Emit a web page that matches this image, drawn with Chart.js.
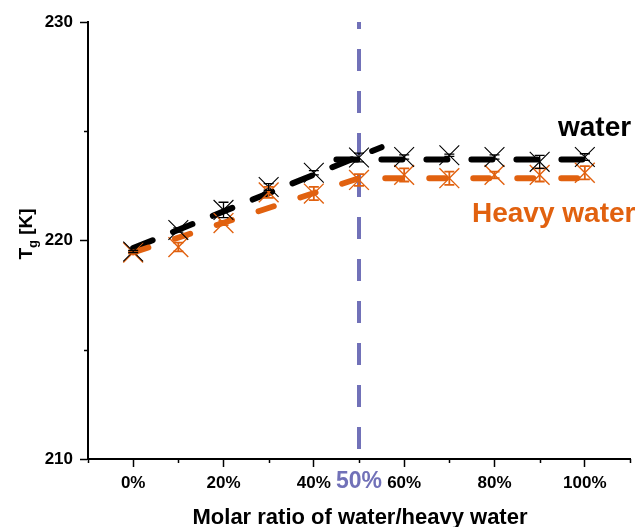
<!DOCTYPE html>
<html><head><meta charset="utf-8">
<script src="https://cdn.jsdelivr.net/npm/chart.js@4/dist/chart.umd.min.js"></script>
<style>html,body{margin:0;padding:0;background:#fff}#wrap{width:639px;height:527px}</style>
</head><body><div id="wrap"><canvas id="c" width="639" height="527"></canvas></div>
<script>
// ---- data ----
const ratios = [0, 10, 20, 30, 40, 50, 60, 70, 80, 90, 100];
const waterTg = [219.5, 220.48, 221.4, 222.45, 223.1, 223.8, 223.82, 223.9, 223.82, 223.6, 223.82];
const waterErr = [0.05, 0.1, 0.35, 0.15, 0.1, 0.2, 0.1, 0.05, 0.1, 0.3, 0.15];
const heavyTg = [219.45, 219.7, 220.8, 222.2, 222.15, 222.77, 223.0, 222.85, 223.0, 223.0, 223.1];
const heavyErr = [0.05, 0.2, 0.1, 0.25, 0.3, 0.27, 0.3, 0.3, 0.15, 0.3, 0.3];
const waterTrendX = [0, 55];
const waterTrendY = [219.65, 224.27];
const waterPlateauX = [45, 100];
const waterPlateauY = [223.71, 223.71];
const heavyTrendX = [0, 50, 100];
const heavyTrendY = [219.45, 222.85, 222.85];
const xTickLabels = [0, 20, 40, 60, 80, 100];
const yTickLabels = [210, 220, 230];
const markRatio = 50;
const seriesNames = ['water', 'Heavy water'];

const BLACK = '#000000';
const ORANGE = '#e1610f';
const BLUE = '#7171b8';
const FONT = '"Liberation Sans", Arial, sans-serif';

const pts = (xs, ys) => xs.map((x, i) => ({x: x, y: ys[i]}));

const errorBars = {
  id: 'errorBars',
  afterDatasetsDraw(chart) {
    const ctx = chart.ctx, xs = chart.scales.x, ys = chart.scales.y;
    const sets = [[heavyTg, heavyErr, ORANGE, 1.8], [waterTg, waterErr, BLACK, 1.3]];
    ctx.save();
    sets.forEach(([vals, errs, col, lw]) => {
      ctx.strokeStyle = col; ctx.lineWidth = lw;
      ratios.forEach((r, i) => {
        const px = xs.getPixelForValue(r);
        const t = ys.getPixelForValue(vals[i] + errs[i]);
        const b = ys.getPixelForValue(vals[i] - errs[i]);
        ctx.beginPath();
        ctx.moveTo(px, t); ctx.lineTo(px, b);
        ctx.moveTo(px - 5, t); ctx.lineTo(px + 5, t);
        ctx.moveTo(px - 5, b); ctx.lineTo(px + 5, b);
        ctx.stroke();
      });
    });
    ctx.restore();
  }
};

const decor = {
  id: 'decor',
  beforeDatasetsDraw(chart) {
    const ctx = chart.ctx, xs = chart.scales.x, a = chart.chartArea;
    const px = xs.getPixelForValue(markRatio);
    ctx.save();
    ctx.strokeStyle = BLUE; ctx.lineWidth = 4;
    ctx.setLineDash([22, 20]); ctx.lineDashOffset = 15;
    ctx.beginPath(); ctx.moveTo(px, a.top); ctx.lineTo(px, a.bottom); ctx.stroke();
    ctx.restore();
  },
  afterDraw(chart) {
    const ctx = chart.ctx, xs = chart.scales.x, ys = chart.scales.y, a = chart.chartArea;
    ctx.save();
    // minor ticks
    ctx.strokeStyle = BLACK; ctx.lineWidth = 1.5;
    for (let v = -10; v <= 110; v += 10) {
      if (xTickLabels.includes(v)) continue;
      const px = Math.round(xs.getPixelForValue(v)) + 0.5;
      ctx.beginPath(); ctx.moveTo(px, a.bottom); ctx.lineTo(px, a.bottom + 4); ctx.stroke();
    }
    for (let v = 215; v <= 225; v += 10) {
      const py = Math.round(ys.getPixelForValue(v)) + 0.5;
      ctx.beginPath(); ctx.moveTo(a.left, py); ctx.lineTo(a.left - 4, py); ctx.stroke();
    }
    // 50% label
    ctx.fillStyle = BLUE; ctx.font = 'bold 23px ' + FONT;
    ctx.textAlign = 'center'; ctx.textBaseline = 'middle';
    ctx.fillText(markRatio + '%', xs.getPixelForValue(markRatio), 482);
    // series labels
    ctx.textAlign = 'left'; ctx.textBaseline = 'alphabetic';
    ctx.font = 'bold 28px ' + FONT;
    ctx.fillStyle = BLACK; ctx.fillText(seriesNames[0], 558, 136);
    ctx.fillStyle = ORANGE; ctx.fillText(seriesNames[1], 472, 222);
    // x title
    ctx.fillStyle = BLACK; ctx.font = 'bold 22px ' + FONT; ctx.textAlign = 'center';
    ctx.fillText('Molar ratio of water/heavy water', (a.left + a.right) / 2 + 1, 524);
    // y title T_g [K]
    ctx.translate(32, 234); ctx.rotate(-Math.PI / 2);
    ctx.textAlign = 'left';
    const f1 = 'bold 19px ' + FONT, f2 = 'bold 13px ' + FONT;
    ctx.font = f1; const wT = ctx.measureText('T').width; const wK = ctx.measureText(' [K]').width;
    ctx.font = f2; const wg = ctx.measureText('g').width;
    let x0 = -(wT + wg + wK) / 2;
    ctx.font = f1; ctx.fillText('T', x0, 0);
    ctx.font = f2; ctx.fillText('g', x0 + wT, 5);
    ctx.font = f1; ctx.fillText(' [K]', x0 + wT + wg, 0);
    ctx.restore();
  }
};

new Chart(document.getElementById('c'), {
  type: 'scatter',
  data: {
    datasets: [
      {label: 'water markers', data: pts(ratios, waterTg), pointStyle: 'crossRot', pointRadius: 14,
       borderColor: BLACK, backgroundColor: BLACK, pointBorderWidth: 1.1, showLine: false},
      {label: 'heavy markers', data: pts(ratios, heavyTg), pointStyle: 'crossRot', pointRadius: 14,
       borderColor: ORANGE, backgroundColor: ORANGE, pointBorderWidth: 1.4, showLine: false},
      {label: 'heavy trend', data: pts(heavyTrendX, heavyTrendY), showLine: true, pointRadius: 0,
       borderColor: ORANGE, borderWidth: 6, borderDash: [16, 28], borderCapStyle: 'round', fill: false},
      {label: 'water plateau', data: pts(waterPlateauX, waterPlateauY), showLine: true, pointRadius: 0,
       borderColor: BLACK, borderWidth: 6, borderDash: [21, 24], borderCapStyle: 'round', fill: false},
      {label: 'water trend', data: pts(waterTrendX, waterTrendY), showLine: true, pointRadius: 0,
       borderColor: BLACK, borderWidth: 6, borderDash: [21, 22], borderCapStyle: 'round', fill: false}
    ]
  },
  options: {
    responsive: false, animation: false, devicePixelRatio: 1,
    layout: {autoPadding: false, padding: {top: 22, right: 9, left: 0, bottom: 0}},
    plugins: {legend: {display: false}, tooltip: {enabled: false}},
    scales: {
      x: {
        type: 'linear', min: -10, max: 110,
        afterFit: s => { s.height = 68; },
        afterBuildTicks: s => { s.ticks = []; for (let v = -10; v <= 110; v += 10) s.ticks.push({value: v}); },
        border: {display: true, color: BLACK, width: 2},
        grid: {display: true, drawOnChartArea: false, drawTicks: true, tickLength: 8, tickWidth: 1.5,
               color: c => (c.tick && xTickLabels.includes(c.tick.value)) ? BLACK : 'rgba(0,0,0,0)'},
        ticks: {autoSkip: false, maxRotation: 0, padding: 6, color: BLACK,
                font: {family: FONT, size: 17, weight: 'bold'},
                callback: v => xTickLabels.includes(v) ? v + '%' : ''}
      },
      y: {
        type: 'linear', min: 210, max: 230,
        afterFit: s => { s.width = 88; },
        afterBuildTicks: s => { s.ticks = []; for (let v = 210; v <= 230; v += 5) s.ticks.push({value: v}); },
        border: {display: true, color: BLACK, width: 2},
        grid: {display: true, drawOnChartArea: false, drawTicks: true, tickLength: 8, tickWidth: 1.5,
               color: c => (c.tick && yTickLabels.includes(c.tick.value)) ? BLACK : 'rgba(0,0,0,0)'},
        ticks: {autoSkip: false, padding: 7, color: BLACK,
                font: {family: FONT, size: 17, weight: 'bold'},
                callback: v => yTickLabels.includes(v) ? String(v) : ''}
      }
    }
  },
  plugins: [errorBars, decor]
});
</script></body></html>
